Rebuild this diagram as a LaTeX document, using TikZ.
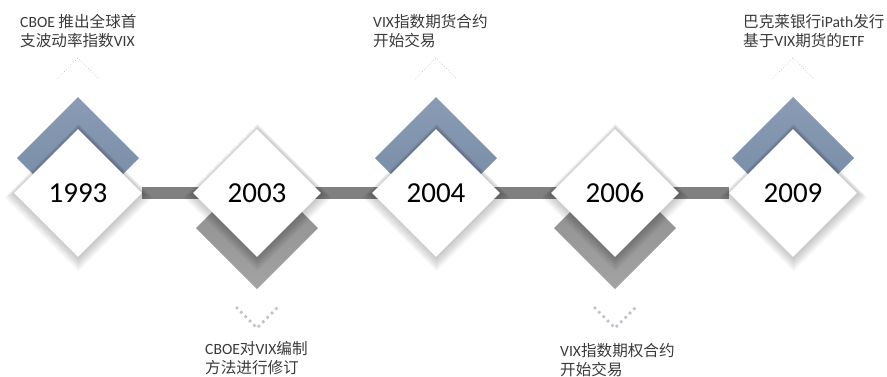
\documentclass[tikz,border=0pt]{standalone}
\usepackage{fontspec}
\setmainfont{Carlito}
\newfontfamily\cjk{Noto Sans CJK SC}
\usetikzlibrary{shapes.geometric,backgrounds}
\definecolor{chevblue}{HTML}{8A9CB4}
\definecolor{chevbluedark}{HTML}{7B8FA9}
\definecolor{chevgray}{HTML}{939393}
\definecolor{chevgraylight}{HTML}{A3A3A3}
\definecolor{bargray}{HTML}{808080}
\definecolor{labelgray}{HTML}{3A3A3A}
\definecolor{dotgray}{HTML}{BEC3CB}
\tikzset{
  year/.style={diamond, fill=white, minimum width=128pt, minimum height=128pt,
    inner sep=0pt, font=\fontsize{29}{29}\selectfont},
  note/.style={anchor=north west, inner sep=0pt, align=left, text=labelgray,
    font=\fontsize{15.6}{19.5}\selectfont},
  caret/.style={gray!60, dotted, line width=0.6pt},
  dots/.style={dotgray, line width=2.6pt, dash pattern=on 2.6pt off 3.6pt},
}
\begin{document}
\begin{tikzpicture}[x=1pt, y=-1pt]
\useasboundingbox (0,0) rectangle (887,376);

\node[year] (1993) at (78, 193) {1993};
\node[year] (2003) at (257, 193) {2003};
\node[year] (2004) at (436, 193) {2004};
\node[year] (2006) at (615, 193) {2006};
\node[year] (2009) at (793, 193) {2009};

\begin{pgfonlayer}{background}
\foreach \x in {78, 436, 793}
  \shade[top color=chevblue, bottom color=chevbluedark, shift={(\x,193)}]
    (0,-96) -- (61,-35) -- (44.5,-18.5) -- (0,-63) -- (-44.5,-18.5) -- (-61,-35) -- cycle;
\foreach \x in {257, 615}
  \shade[top color=chevgray, bottom color=chevgraylight, shift={(\x,193)}]
    (0,96) -- (61,35) -- (44.5,18.5) -- (0,63) -- (-44.5,18.5) -- (-61,35) -- cycle;

\draw[bargray, line width=12pt] (1993.east) -- (2009.west);

\foreach \x in {78, 257, 436, 615, 793}
  \foreach \k in {1,...,10}
    \fill[black, opacity=0.024, shift={(\x+0.5,193+0.45*\k)}]
      (0,-64-\k) -- (64+\k,0) -- (0,64+\k) -- (-64-\k,0) -- cycle;
\end{pgfonlayer}

\foreach \x in {78, 436, 793}
  \draw[caret] (\x-21,79) -- (\x,58) -- (\x+21,79);
\foreach \x in {257, 615}
  \draw[dots] (\x-21,307) -- (\x,328) -- (\x+21,307);

\node[note] (t1993) at (20,14) {CBOE {\cjk 推出全球首}\\{\cjk 支波动率指数}VIX};
\node[note] (t2004) at (373,14) {VIX{\cjk 指数期货合约}\\{\cjk 开始交易}};
\node[note] (t2009) at (743,14) {{\cjk 巴克莱银行}iPath{\cjk 发行}\\{\cjk 基于}VIX{\cjk 期货的}ETF};
\node[note] (t2003) at (205,341) {CBOE{\cjk 对}VIX{\cjk 编制}\\{\cjk 方法进行修订}};
\node[note] (t2006) at (560,343) {VIX{\cjk 指数期权合约}\\{\cjk 开始交易}};
\end{tikzpicture}
\end{document}
